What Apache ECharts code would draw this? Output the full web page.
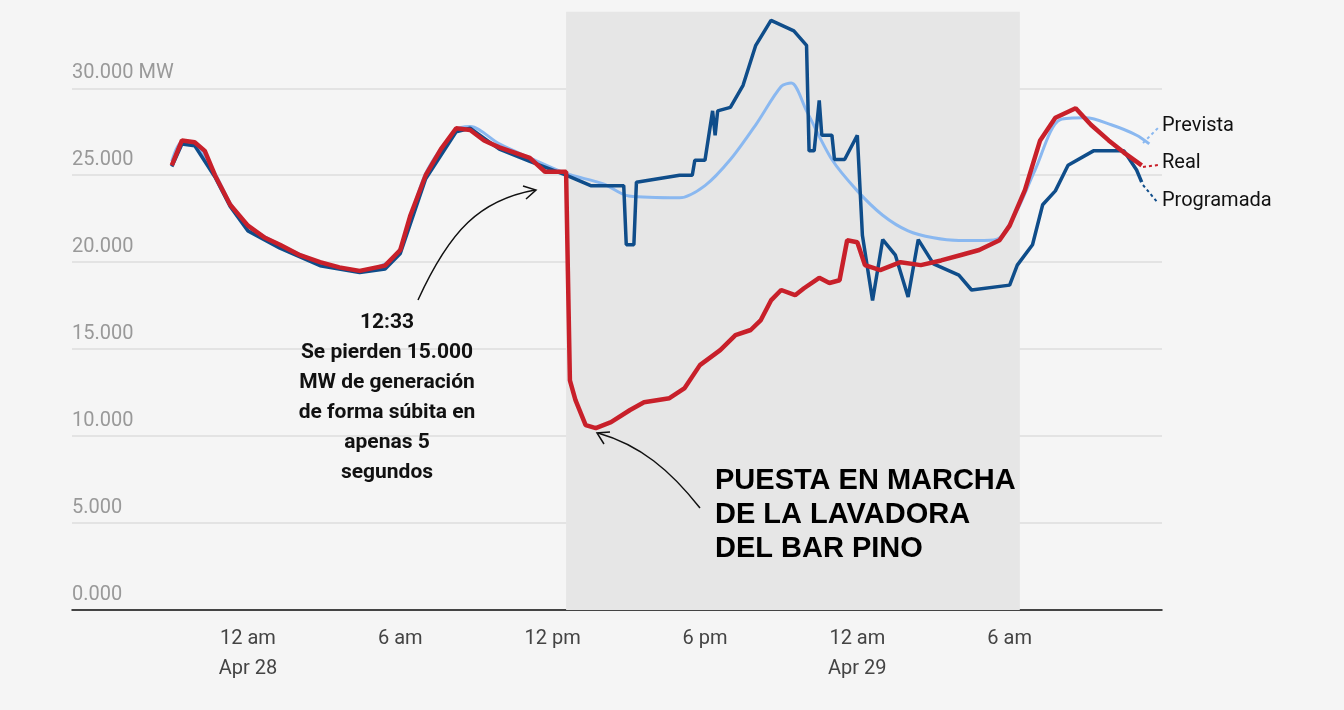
<!DOCTYPE html>
<html><head><meta charset="utf-8">
<script src="https://cdn.jsdelivr.net/npm/echarts@6/dist/echarts.min.js"></script>
<style>html,body{margin:0;background:#f5f5f5}#c{width:1344px;height:710px}</style>
</head><body><div id="c"></div>
<script>
// hours relative to Apr 28 00:00
const realT = [-3.0,-2.6,-2.1,-1.7,-1.3,-0.7,0,0.67,1.26,2.05,2.84,3.6,4.4,5.4,6,6.4,7.0,7.6,8.2,8.75,9.3,9.9,10.5,11.1,11.7,12.3,12.53,12.6,12.68,12.9,13.3,13.7,14.3,15.05,15.6,16.6,17.2,17.8,18.6,19.2,19.8,20.2,20.6,21.0,21.55,21.9,22.5,22.9,23.3,23.6,24,24.3,24.9,25.7,26.5,27.3,28.05,28.8,29.6,30,30.6,31.2,31.8,32.6,33.2,33.9,34.5,35.2];
const realV = [25570,27000,26900,26400,25000,23300,22100,21400,21000,20400,20000,19700,19500,19800,20700,22700,25000,26500,27700,27600,27000,26600,26300,26000,25200,25200,25200,19500,13200,12070,10630,10460,10800,11500,11950,12180,12760,14080,14940,15800,16100,16670,17800,18400,18100,18500,19100,18800,18960,21260,21150,19830,19540,20000,19830,20100,20400,20700,21260,22100,24140,27000,28300,28850,27900,27000,26300,25570];
const prevT = [-3.0,-2.6,-2.1,-1.3,-0.7,0,1.26,2.84,4.4,5.4,6,7.0,8.2,8.75,9.9,11.1,12.53,14,15,17,18,19,20,21,21.4,22,23,24,25,26,27,28,29,29.6,30.3,31,32,33,34,35,35.5];
const prevV = [25800,26900,26800,25100,23400,22100,21000,20000,19500,19900,20800,25100,27600,27800,26800,26000,25100,24500,23800,23700,24400,25900,27900,30100,30300,28700,25900,24100,22700,21800,21400,21250,21250,21400,23000,25300,28200,28300,27900,27300,26800];
const progT = [-3.0,-2.6,-2.1,-1.3,-0.7,0,1.26,2.84,4.4,5.4,6,7.0,8.2,8.75,9.9,11.1,12.53,13.5,14.8,14.9,15.2,15.3,17,17.5,17.6,18,18.3,18.4,18.5,19,19.5,20,20.6,21.5,22,22.1,22.3,22.5,22.6,23,23.1,23.5,24,24.2,24.6,25,25.5,26,26.4,27,28,28.5,30,30.3,30.9,31.3,31.8,32.3,33.3,34.5,35,35.2];
const progV = [25500,26800,26700,24900,23200,21800,20800,19800,19400,19600,20500,24800,27500,27700,26500,25800,25000,24400,24400,21000,21000,24600,25000,25000,25860,25860,28700,27300,28700,28900,30170,32470,33900,33300,32470,26400,26400,29300,27300,27300,25900,25900,27300,21550,17800,21300,20400,18000,21300,19900,19250,18400,18680,19830,21000,23300,24100,25570,26400,26400,25300,24600];
const yTicks = [0,5000,10000,15000,20000,25000,30000];
const xTicks = [0,6,12,18,24,30];
const xTickLabels = ['12 am\nApr 28','6 am','12 pm','6 pm','12 am\nApr 29','6 am'];
const pair = (t,v)=>t.map((x,i)=>[x,v[i]]);
const fmt = v => { const s = v===0?'0.000':String(v).replace(/(\d)(?=(\d{3})$)/,'$1.'); return v===30000? s+' MW': s; };
const chart = echarts.init(document.getElementById('c'));
const F = 'Roboto';
chart.setOption({
  backgroundColor:'#f5f5f5',
  animation:false,
  grid:{left:72,right:182,top:10,height:600},
  xAxis:{type:'value',min:-6.93,max:36,
    axisLine:{lineStyle:{color:'#111',width:1.5}},axisTick:{show:false},splitLine:{show:false},
    axisLabel:{customValues:xTicks,formatter:v=>xTickLabels[xTicks.indexOf(v)],color:'#444',fontSize:20,fontFamily:F,lineHeight:30,margin:14}},
  yAxis:{type:'value',min:0,max:34500,
    axisLine:{show:false},axisTick:{show:false},
    splitLine:{lineStyle:{color:'#dcdcdc',width:1.5},showMaxLine:false},
    axisLabel:{customValues:yTicks,inside:true,verticalAlign:'bottom',margin:0,padding:[0,0,5,0],color:'#999',fontSize:20,fontFamily:F,formatter:fmt}},
  series:[
    {type:'line',data:pair(prevT,prevV),symbol:'none',smooth:0.3,lineStyle:{color:'#8ab8f0',width:3},z:2,
      markArea:{silent:true,itemStyle:{color:'#e6e6e6'},data:[[{xAxis:12.53,yAxis:34400},{xAxis:30.4,yAxis:0}]]}},
    {type:'line',data:pair(progT,progV),symbol:'none',lineStyle:{color:'#0f4d8a',width:3.5},z:3},
    {type:'line',data:pair(realT,realV),symbol:'none',lineStyle:{color:'#c8202a',width:4.5},z:4}
  ],
  graphic:[
    {type:'text',left:1162,top:116,style:{text:'Prevista',fontSize:20,fontFamily:F,fill:'#111'}},
    {type:'text',left:1162,top:153,style:{text:'Real',fontSize:20,fontFamily:F,fill:'#111'}},
    {type:'text',left:1162,top:191,style:{text:'Programada',fontSize:20,fontFamily:F,fill:'#111'}},
    {type:'line',shape:{x1:1143,y1:143,x2:1158,y2:128},style:{stroke:'#8ab8f0',lineWidth:2,lineDash:[3,3]}},
    {type:'line',shape:{x1:1143,y1:167,x2:1158,y2:165},style:{stroke:'#c8202a',lineWidth:2,lineDash:[3,3]}},
    {type:'line',shape:{x1:1143,y1:185,x2:1158,y2:203},style:{stroke:'#0f4d8a',lineWidth:2,lineDash:[3,3]}},
    {type:'text',x:387,y:308,z:10,style:{text:'12:33\nSe pierden 15.000\nMW de generación\nde forma súbita en\napenas 5\nsegundos',fontSize:21,fontWeight:'bold',fontFamily:F,fill:'#111',align:'center',lineHeight:30}},
    {type:'text',x:715,y:464,z:10,style:{text:'PUESTA EN MARCHA\nDE LA LAVADORA\nDEL BAR PINO',fontSize:29,fontWeight:'bold',fontFamily:'Liberation Sans',fill:'#000',lineHeight:34}},
    {type:'bezierCurve',z:10,shape:{x1:418,y1:300,cpx1:450,cpy1:230,x2:535,y2:190,cpx2:480,cpy2:200},style:{stroke:'#111',lineWidth:1.5,fill:null}},
    {type:'polyline',z:10,shape:{points:[[523,186],[536,190],[526,199]]},style:{stroke:'#111',lineWidth:1.5,fill:null}},
    {type:'bezierCurve',z:10,shape:{x1:700,y1:508,cpx1:670,cpy1:470,x2:598,y2:433,cpx2:640,cpy2:445},style:{stroke:'#111',lineWidth:1.5,fill:null}},
    {type:'polyline',z:10,shape:{points:[[604,444],[597,433],[610,432]]},style:{stroke:'#111',lineWidth:1.5,fill:null}}
  ]
});
</script></body></html>
